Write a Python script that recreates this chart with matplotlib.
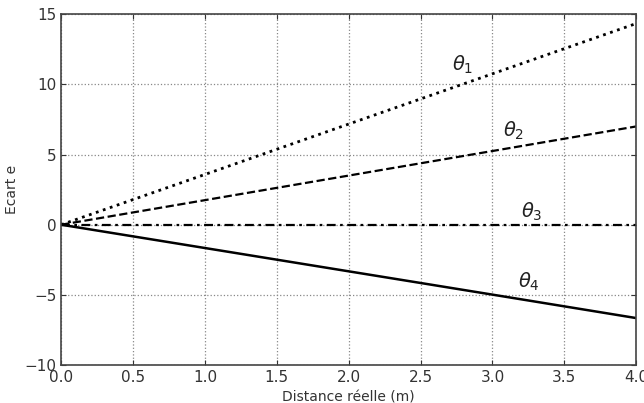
import matplotlib
matplotlib.use('Agg')
import matplotlib.pyplot as plt

# Data
distance = [0.0, 1.0, 2.0, 3.0, 4.0]
ecart_t1 = [0.0, 3.58, 7.17, 10.75, 14.33]
ecart_t2 = [0.0, 1.75, 3.5, 5.25, 7.0]
ecart_t3 = [0.0, 0.0, 0.0, 0.0, 0.0]
ecart_t4 = [0.0, -1.66, -3.32, -4.98, -6.65]

x_ticks = [0.0, 0.5, 1.0, 1.5, 2.0, 2.5, 3.0, 3.5, 4.0]
y_ticks = [-10, -5, 0, 5, 10, 15]

fig = plt.figure(figsize=(6.44, 4.03), dpi=100)
ax = fig.add_axes([0.095, 0.094, 0.893, 0.871])

ax.plot(distance, ecart_t1, color='black', linestyle=':', linewidth=2)
ax.plot(distance, ecart_t2, color='black', linestyle='--', linewidth=1.6)
ax.plot(distance, ecart_t3, color='black', linestyle=(0, (4, 2, 1.2, 2)), linewidth=1.6)
ax.plot(distance, ecart_t4, color='black', linestyle='-', linewidth=1.8)

# Labels next to each line
ax.text(2.72, 11.0, r'$\theta_1$', fontsize=14, color='#222222')
ax.text(3.07, 6.3, r'$\theta_2$', fontsize=14, color='#222222')
ax.text(3.2, 0.5, r'$\theta_3$', fontsize=14, color='#222222')
ax.text(3.18, -4.5, r'$\theta_4$', fontsize=14, color='#222222')

ax.set_xlim(0, 4)
ax.set_ylim(-10, 15)
ax.set_xticks(x_ticks)
ax.set_yticks(y_ticks)
ax.set_xlabel('Distance réelle (m)', fontsize=10, color='#333333')
ax.set_ylabel('Ecart e', fontsize=10, color='#333333')

ax.grid(True, linestyle=':', color='#888888', linewidth=0.9)
ax.tick_params(direction='in', top=True, right=True, labelsize=11, colors='#333333')
for s in ax.spines.values():
    s.set_color('#444444')
    s.set_linewidth(1.2)

fig.savefig('out.png', dpi=100)
